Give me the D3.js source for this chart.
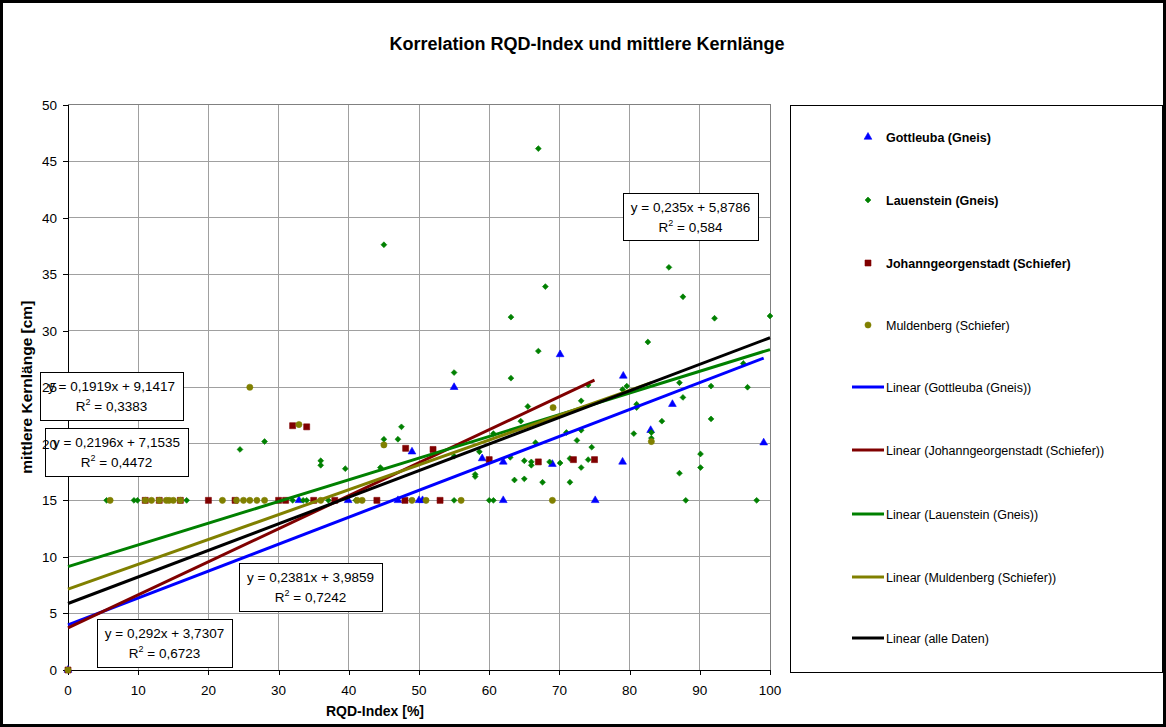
<!DOCTYPE html>
<html><head><meta charset="utf-8">
<script src="https://cdn.jsdelivr.net/npm/d3@7"></script>
<style>
html,body{margin:0;padding:0;background:#fff;}
svg{display:block;font-family:"Liberation Sans",Arial,sans-serif;}
</style></head>
<body><svg id="c" width="1166" height="727"></svg>
<script>
// ---- data ----
const seriesNames = ["Gottleuba (Gneis)", "Lauenstein (Gneis)", "Johanngeorgenstadt (Schiefer)", "Muldenberg (Schiefer)"];
const seriesColors = ["#0000FF", "#008000", "#800000", "#808000"];
const seriesBold = [true, true, true, false];

const gottleuba = [[0,0],[32.9,15],[39.9,15],[47,15],[50,15],[50.5,15],[62,15],[75.1,15],[49,19.3],[55,25],
  [59,18.7],[62,18.4],[69,18.2],[70.1,27.9],[79.1,26],[79,18.4],[83,21.2],[86.1,23.5],[99.1,20.1]];

const lauenstein = [[0,0],[5.5,15],[9.4,15],[9.9,15],[16.9,15],[32,15],[33.5,15],[34,15],[37.1,15],[41,15],[55,15],
  [60,15],[60.6,15],[88,15],[98.1,15],[24.5,19.5],[28,20.2],[36,18.5],[36,18.1],[39.5,17.8],[44.5,17.9],[45,20.4],
  [45,37.6],[47,20.4],[47.5,21.5],[55,26.3],[55,18.9],[58.6,19.3],[58,17.3],[58,17.1],[60.6,20.9],[63.1,31.2],
  [63.1,25.8],[63,18.8],[63.6,16.8],[64.5,22],[65,18.5],[65,16.9],[65.5,23.3],[66,18.4],[66,18.1],[66.6,20.1],
  [67,46.1],[67,28.2],[67.6,16.6],[68,33.9],[68.6,18.4],[70.1,18.3],[71,21],[71.5,18.7],[71.5,16.6],[72.5,20.3],
  [73.1,23.8],[73.1,21.2],[73.1,17.9],[74.1,25.2],[74.6,19.7],[74.1,18.6],[79,24.8],[79.6,25.1],[80.6,20.9],
  [81,23.5],[81,23.2],[82.6,29],[83.1,21],[83.1,20.5],[84.6,22],[85.6,35.6],[87.1,25.4],[87.6,33],[87.6,24.1],
  [87.1,17.4],[90.1,19.1],[90.1,17.9],[91.6,25.1],[91.6,22.2],[92.1,31.1],[96.2,27.1],[96.8,25],[100,31.3]];

const johanngeorgenstadt = [[0,0],[11,15],[13,15],[16,15],[20,15],[23.8,15],[30,15],[31,15],[35,15],[38,15],[44,15],
  [48,15],[53,15],[32,21.6],[34,21.5],[48.1,19.6],[52,19.5],[60,18.6],[67,18.4],[72,18.6],[75,18.6]];

const muldenberg = [[0,0],[6,15],[11,15],[11.9,15],[13,15],[14,15],[14.4,15],[15,15],[16,15],[22,15],[24,15],[25,15],
  [25.9,15],[26.9,15],[28,15],[36,15],[41.2,15],[41.9,15],[49,15],[51,15],[56,15],[69,15],[25.9,25],[32.9,21.7],
  [45,19.9],[69.1,23.2],[83.1,20.2]];

const seriesData = [gottleuba, lauenstein, johanngeorgenstadt, muldenberg];

// trendlines (legend order)
const trendNames = ["Linear (Gottleuba (Gneis))", "Linear (Johanngeorgenstadt (Schiefer))", "Linear (Lauenstein (Gneis))", "Linear (Muldenberg (Schiefer))", "Linear (alle Daten)"];
const trendColors = ["#0000FF", "#800000", "#008000", "#808000", "#000000"];
const trendSource = [0, 2, 1, 3, -1];      // -1 = all data
const trendSlopes = [0.2381, 0.292, 0.1919, 0.2196, 0.235];
const trendIntercepts = [3.9859, 3.7307, 9.1417, 7.1535, 5.8786];
const trendR2 = [0.7242, 0.6723, 0.3383, 0.4472, 0.584];

const xTicks = [0,10,20,30,40,50,60,70,80,90,100];
const yTicks = [0,5,10,15,20,25,30,35,40,45,50];

// ---- layout ----
const svg = d3.select("#c");
const W = 1166, H = 727;
const x = d3.scaleLinear().domain([0,100]).range([68,770]);
const y = d3.scaleLinear().domain([0,50]).range([670,104.5]);
// equation label boxes [left, top, width, height] per trendline
const labelBoxes = [[239,563,143,48],[97,619,135,48],[40,372,143,48],[45,428,143,48],[623,193,135,47]];

svg.append("rect").attr("x",0).attr("y",0).attr("width",W).attr("height",H).attr("fill","#fff");
svg.append("rect").attr("x",1.5).attr("y",1.5).attr("width",W-3).attr("height",H-3)
  .attr("fill","none").attr("stroke","#000").attr("stroke-width",3);

// title
svg.append("text").attr("x",587).attr("y",50).attr("text-anchor","middle")
  .attr("font-weight","bold").attr("font-size",18).text("Korrelation RQD-Index und mittlere Kernlänge");

// gridlines
const g = svg.append("g");
g.selectAll(".gy").data(yTicks).join("line")
  .attr("x1",x(0)).attr("x2",x(100)).attr("y1",d=>y(d)).attr("y2",d=>y(d))
  .attr("stroke","#a0a0a0").attr("stroke-width",1).attr("shape-rendering","crispEdges");
g.selectAll(".gx").data(xTicks).join("line")
  .attr("y1",y(0)).attr("y2",y(50)).attr("x1",d=>x(d)).attr("x2",d=>x(d))
  .attr("stroke","#a0a0a0").attr("stroke-width",1).attr("shape-rendering","crispEdges");
// plot border right/top
svg.append("rect").attr("x",x(0)).attr("y",y(50)).attr("width",x(100)-x(0)).attr("height",y(0)-y(50))
  .attr("fill","none").attr("stroke","#808080").attr("stroke-width",1).attr("shape-rendering","crispEdges");

// axes
const xAxis = d3.axisBottom(x).tickValues(xTicks).tickSize(5).tickFormat("");
const yAxis = d3.axisLeft(y).tickValues(yTicks).tickSize(5).tickFormat("");
const gxA = svg.append("g").attr("transform",`translate(0,${y(0)})`).call(xAxis);
const gyA = svg.append("g").attr("transform",`translate(${x(0)},0)`).call(yAxis);
[gxA, gyA].forEach(a => { a.selectAll("path,line").attr("stroke","#000").attr("shape-rendering","crispEdges"); });

// markers
const symTypes = [d3.symbolTriangle, d3.symbolSquare, d3.symbolSquare, d3.symbolCircle];
const symSizes = [26, 17, 36, 30];
const symRot = [0, 45, 0, 0];
seriesData.forEach((data, i) => {
  const sym = d3.symbol().type(symTypes[i]).size(symSizes[i]);
  svg.append("g").selectAll("path").data(data).join("path")
    .attr("d", sym)
    .attr("transform", d => `translate(${x(d[0])},${y(d[1])}) rotate(${symRot[i]})`)
    .attr("fill", seriesColors[i]).attr("stroke", seriesColors[i]).attr("stroke-width", 0.6);
});

// trendlines
const allData = seriesData.flat();
trendSlopes.forEach((m, i) => {
  const src = trendSource[i] < 0 ? allData : seriesData[trendSource[i]];
  const ext = d3.extent(src, d => d[0]);
  const pts = ext.map(v => [v, m * v + trendIntercepts[i]]);
  svg.append("path").datum(pts)
    .attr("d", d3.line().x(d => x(d[0])).y(d => y(d[1])))
    .attr("stroke", trendColors[i]).attr("stroke-width", 3).attr("fill","none");
});

// equation labels
const fmt = v => String(v).replace(".", ",");
trendSlopes.forEach((m, i) => {
  const [bx, by, bw, bh] = labelBoxes[i];
  const lg = svg.append("g");
  lg.append("rect").attr("x",bx+0.5).attr("y",by+0.5).attr("width",bw).attr("height",bh)
    .attr("fill","#fff").attr("stroke","#000").attr("stroke-width",1);
  lg.append("text").attr("x",bx+bw/2).attr("y",by+19).attr("text-anchor","middle").attr("font-size",13.5)
    .text(`y = ${fmt(m)}x + ${fmt(trendIntercepts[i])}`);
  const t2 = lg.append("text").attr("x",bx+bw/2).attr("y",by+39).attr("text-anchor","middle").attr("font-size",13.5);
  t2.append("tspan").text("R");
  t2.append("tspan").attr("font-size",9).attr("dy",-6).text("2");
  t2.append("tspan").attr("dy",6).text(` = ${fmt(trendR2[i])}`);
});

// tick labels (drawn over the label boxes)
svg.append("g").selectAll("text").data(xTicks).join("text")
  .attr("x", d => x(d)).attr("y", 695).attr("text-anchor","middle").attr("font-size",13.5).text(d => d);
svg.append("g").selectAll("text").data(yTicks).join("text")
  .attr("x", 57).attr("y", d => y(d) + 5).attr("text-anchor","end").attr("font-size",13.5).text(d => d);

// axis titles
svg.append("text").attr("x",375).attr("y",716).attr("text-anchor","middle").attr("font-weight","bold")
  .attr("font-size",14).text("RQD-Index [%]");
svg.append("text").attr("transform",`translate(32,${(y(0)+y(50))/2}) rotate(-90)`).attr("text-anchor","middle")
  .attr("font-weight","bold").attr("font-size",15.5).text("mittlere Kernlänge [cm]");

// legend
const lx = 790, ly = 105, lw = 372, lh = 567;
svg.append("rect").attr("x",lx+0.5).attr("y",ly+0.5).attr("width",lw).attr("height",lh)
  .attr("fill","#fff").attr("stroke","#000").attr("stroke-width",1);
const legY = [137, 200, 263, 325, 387, 450, 514, 577, 638];
seriesNames.forEach((n, i) => {
  const sym = d3.symbol().type(symTypes[i]).size(symSizes[i]);
  svg.append("path").attr("d", sym).attr("transform", `translate(868,${legY[i]}) rotate(${symRot[i]})`)
    .attr("fill", seriesColors[i]).attr("stroke", seriesColors[i]).attr("stroke-width",0.6);
  svg.append("text").attr("x",886).attr("y",legY[i]+4.5).attr("font-size",12.5)
    .attr("font-weight", seriesBold[i] ? "bold" : "normal").text(n);
});
trendNames.forEach((n, i) => {
  const yy = legY[4 + i];
  svg.append("line").attr("x1",852).attr("x2",884).attr("y1",yy).attr("y2",yy)
    .attr("stroke",trendColors[i]).attr("stroke-width",3);
  svg.append("text").attr("x",886).attr("y",yy+4.5).attr("font-size",12.5).text(n);
});
</script></body></html>
